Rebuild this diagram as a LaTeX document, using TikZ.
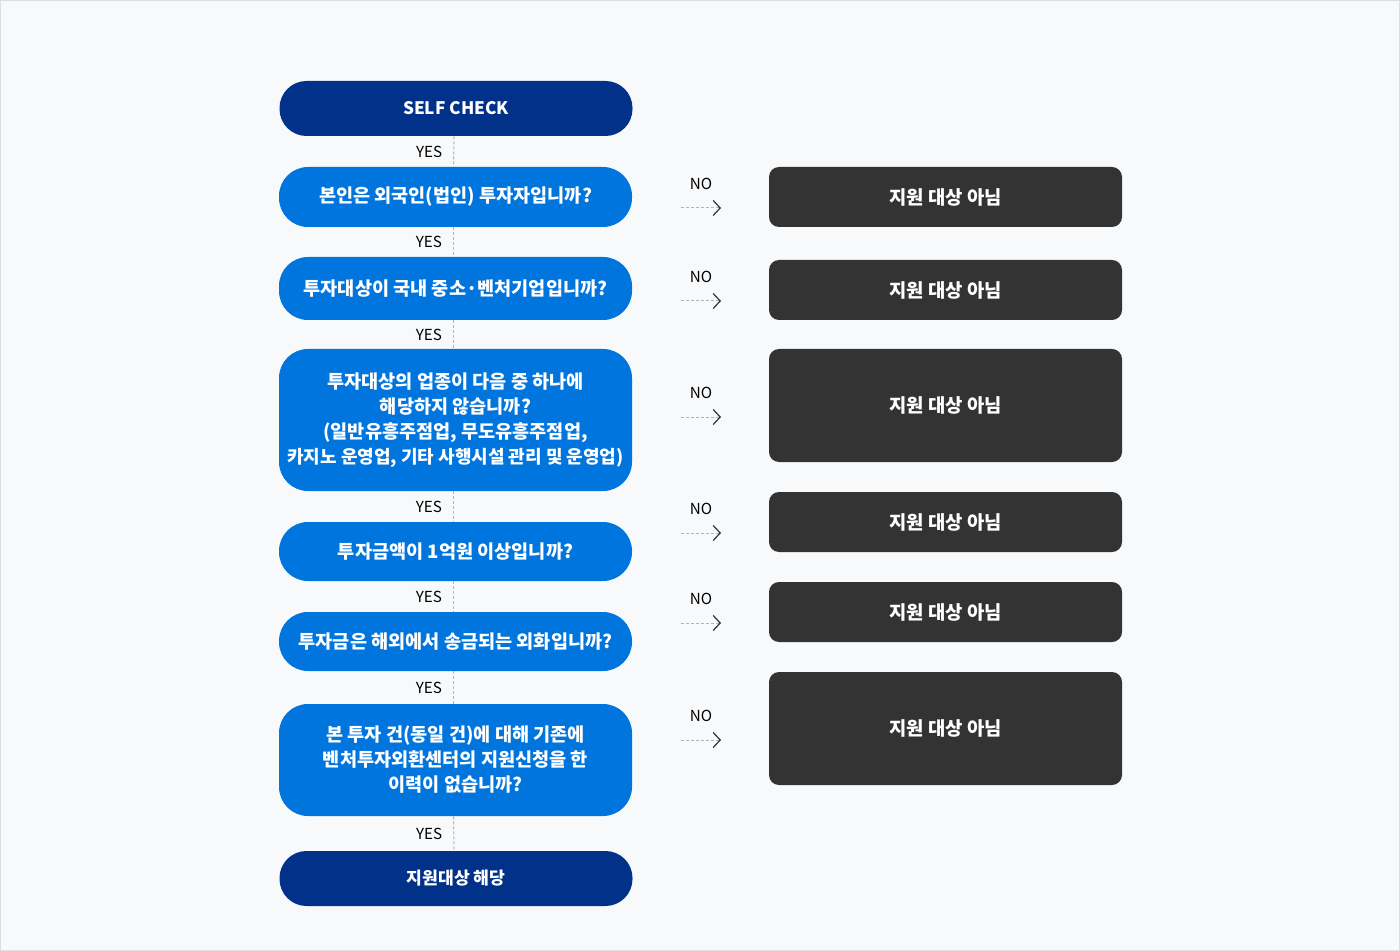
\documentclass[tikz,border=0pt]{standalone}
\usepackage{fontspec}
\setmainfont{Noto Sans CJK KR}
\usetikzlibrary{arrows.meta, positioning}
\definecolor{navy}{HTML}{013189}
\definecolor{askblue}{HTML}{0075DE}
\definecolor{stopgray}{HTML}{333333}
\definecolor{paper}{HTML}{F8F9FB}
\definecolor{rim}{HTML}{DCDEE1}
\definecolor{dashgray}{HTML}{B4B4B4}
\tikzset{
  box/.style = {align=center, inner sep=0pt, text centered, text=white,
    font=\fontsize{9.3}{12.5}\selectfont\bfseries, minimum width=176.5pt},
  goalbox/.style = {box, fill=navy, rounded corners=13.5pt,
    minimum height=27.5pt, font=\fontsize{8.6}{12}\selectfont\bfseries},
  askbox/.style = {box, fill=askblue, rounded corners=14.5pt, minimum height=#1},
  askbox/.default = 30pt,
  stopbox/.style = {box, fill=stopgray, rounded corners=5pt, minimum height=#1,
    font=\fontsize{9.4}{12.5}\selectfont\bfseries},
  stopbox/.default = 30pt,
  lbl/.style = {inner sep=0pt, text=black, font=\fontsize{7.6}{9}\selectfont},
  yesline/.style = {draw=dashgray, line width=0.5pt, dash pattern=on 1.5pt off 1pt},
  noline/.style = {draw=dashgray, line width=0.5pt, dash pattern=on 1.5pt off 1pt,
    -{Straight Barb[length=3.5pt, width=7.5pt, color=stopgray, line width=0.6pt]}}
}
\begin{document}
\begin{tikzpicture}[x=0.5pt, y=-0.5pt]
\useasboundingbox (0,0) rectangle (1400,951);
\fill[paper] (0,0) rectangle (1400,951);
\draw[rim, line width=0.5pt] (0.5,0.5) rectangle (1399.5,950.5);

% left column
\node [goalbox] (s0) at (456,108.5) {SELF CHECK};
\node [askbox] (q1) at (455.5,197) {본인은 외국인(법인) 투자자입니까?};
\node [askbox=31.5pt] (q2) at (455.5,288.5) {투자대상이 국내 중소·벤처기업입니까?};
\node [askbox=71pt] (q3) at (455.5,420) {투자대상의 업종이 다음 중 하나에\\해당하지 않습니까?\\(일반유흥주점업, 무도유흥주점업,\\{\fontsize{9}{12.5}\selectfont 카지노 운영업, 기타 사행시설 관리 및 운영업)}};
\node [askbox=29.5pt] (q4) at (455.5,551.5) {투자금액이 1억원 이상입니까?};
\node [askbox=29.5pt] (q5) at (455.5,641.5) {투자금은 해외에서 송금되는 외화입니까?};
\node [askbox=56pt] (q6) at (455.5,760) {본 투자 건(동일 건)에 대해 기존에\\벤처투자외환센터의 지원신청을 한\\이력이 없습니까?};
\node [goalbox] (s1) at (456,878.5) {지원대상 해당};

\draw[yesline] ([xshift=-1pt]s0.south) -- ([xshift=-1pt]q1.north) node[midway, left=5.5pt, lbl] {YES};
\draw[yesline] ([xshift=-1pt]q1.south) -- ([xshift=-1pt]q2.north) node[midway, left=5.5pt, lbl] {YES};
\draw[yesline] ([xshift=-1pt]q2.south) -- ([xshift=-1pt]q3.north) node[midway, left=5.5pt, lbl] {YES};
\draw[yesline] ([xshift=-1pt]q3.south) -- ([xshift=-1pt]q4.north) node[midway, left=5.5pt, lbl] {YES};
\draw[yesline] ([xshift=-1pt]q4.south) -- ([xshift=-1pt]q5.north) node[midway, left=5.5pt, lbl] {YES};
\draw[yesline] ([xshift=-1pt]q5.south) -- ([xshift=-1pt]q6.north) node[midway, left=5.5pt, lbl] {YES};
\draw[yesline] ([xshift=-1pt]q6.south) -- ([xshift=-1pt]s1.north) node[midway, left=5.5pt, lbl] {YES};

% right column
\node [stopbox] (d1) at (945.5,197) {지원 대상 아님};
\node [stopbox] (d2) at (945.5,290) {지원 대상 아님};
\node [stopbox=56.5pt] (d3) at (945.5,405.5) {지원 대상 아님};
\node [stopbox] (d4) at (945.5,522) {지원 대상 아님};
\node [stopbox] (d5) at (945.5,612) {지원 대상 아님};
\node [stopbox=56.5pt] (d6) at (945.5,728.5) {지원 대상 아님};

% NO arrows
\foreach \y [count=\i] in {208,301,417,533,623,740} {
  \coordinate (na\i) at (681,\y);
  \coordinate (nb\i) at (721,\y);
  \draw[noline] (na\i) -- (nb\i) node[midway, above=9pt, lbl] {NO};
}
\end{tikzpicture}
\end{document}
